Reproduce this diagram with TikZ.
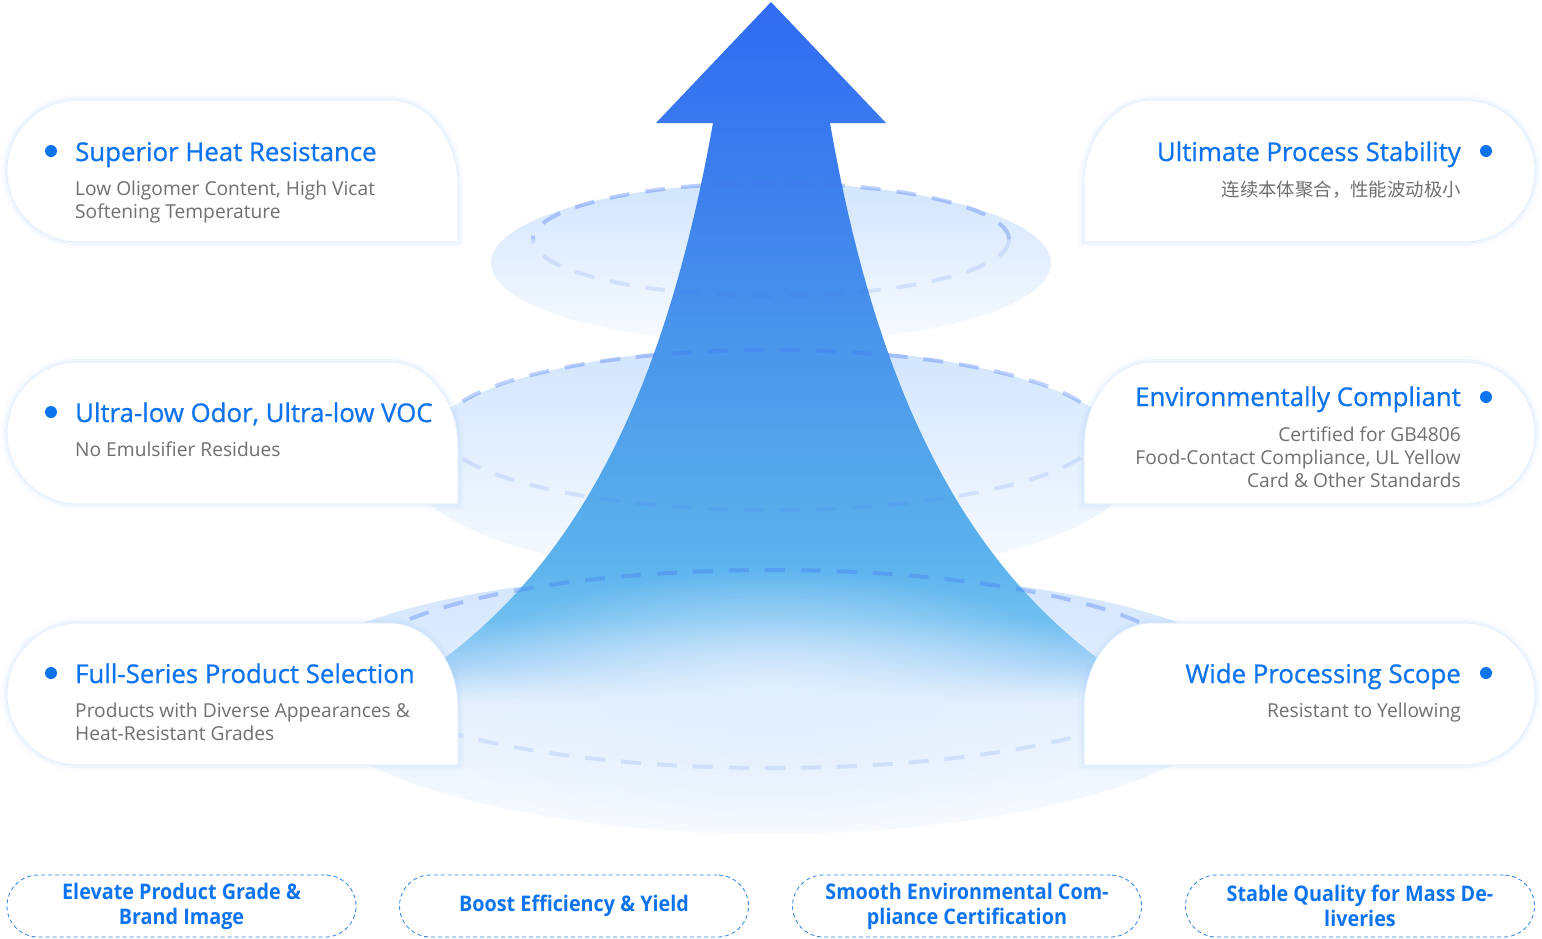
\documentclass[tikz,border=0pt]{standalone}
\usepackage{fontspec}
\setmainfont{Open Sans}
\newfontfamily\cjk{Noto Sans CJK SC}
\newfontfamily\headfont[FakeBold=0.8]{Open Sans}
\newfontfamily\pillfont[FakeStretch=0.92]{Open Sans}
\usetikzlibrary{positioning, calc, fadings}

\definecolor{titleblue}{RGB}{14,116,238}
\definecolor{subgray}{RGB}{112,112,112}
\definecolor{glowblue}{RGB}{150,195,250}
\definecolor{ringblue}{RGB}{70,120,245}
\definecolor{pillblue}{RGB}{45,130,232}
\definecolor{discblue}{RGB}{210,229,253}
\definecolor{discpale}{RGB}{248,251,255}
\definecolor{glowpale}{RGB}{226,239,253}

\pgfdeclareverticalshading{arrowshade}{100bp}{
  rgb(0bp)=(0.89,0.94,0.99);
  rgb(25bp)=(0.89,0.94,0.99);
  rgb(27.5bp)=(0.66,0.83,0.97);
  rgb(30.7bp)=(0.44,0.75,0.94);
  rgb(35bp)=(0.36,0.70,0.93);
  rgb(39.3bp)=(0.34,0.67,0.92);
  rgb(50bp)=(0.29,0.59,0.92);
  rgb(61.9bp)=(0.24,0.50,0.93);
  rgb(75bp)=(0.19,0.42,0.95);
  rgb(100bp)=(0.19,0.42,0.95)}

\tikzfading[name=softglow, inner color=transparent!0, outer color=transparent!100]

\begin{document}
\begin{tikzpicture}[x=1pt, y=-1pt,
    card/.style={fill=white, draw=glowblue!35, line width=.6pt,
      preaction={draw=glowblue, line width=12pt, draw opacity=.05},
      preaction={draw=glowblue, line width=6pt, draw opacity=.10}},
    dot/.style={circle, fill=titleblue, inner sep=0pt, minimum size=12pt},
    head/.style={inner sep=0pt, text=titleblue, font=\headfont\fontsize{25.8}{30}\selectfont},
    note/.style={inner sep=0pt, text=subgray, font=\fontsize{19.2}{23}\selectfont},
    pill/.style={draw=pillblue, line width=.8pt, dash pattern=on 4pt off 3pt,
      rounded corners=31pt, minimum width=349pt, minimum height=62pt,
      align=center, text=titleblue, font=\pillfont\bfseries\fontsize{21.5}{25}\selectfont},
    ringtop/.style={draw=ringblue, draw opacity=.35, line width=4pt, dash pattern=on 20pt off 16pt},
    ringbot/.style={ringtop, draw opacity=.15}]

  \useasboundingbox (0,0) rectangle (1542,938);

  % the three discs
  \shade[top color=discblue, bottom color=discpale] (291,682)
    arc[start angle=180, end angle=360, x radius=480, y radius=112]
    arc[start angle=0, end angle=180, x radius=480, y radius=152] -- cycle;
  \shade[top color=discblue, bottom color=discpale] (771,463) ellipse[x radius=365, y radius=116];
  \shade[top color=discblue, bottom color=discpale] (771,263) ellipse[x radius=280, y radius=80];

  % the arrow
  \shade[shading=arrowshade] (771,2) -- (886,123) -- (830,123)
    .. controls (882,420) and (982,600) .. (1162,700) -- (380,700)
    .. controls (560,600) and (660,420) .. (713,123) -- (656,123) -- cycle;
  \fill[glowpale, path fading=softglow] (771,705) ellipse[x radius=340, y radius=135];

  % dashed rings
  \foreach \cy/\rx/\ry in {239.5/238/56.5, 430/330/80, 669/418/99} {
    \draw[ringtop] (771+\rx,\cy) arc[start angle=0, end angle=-180, x radius=\rx, y radius=\ry];
    \draw[ringbot] (771+\rx,\cy) arc[start angle=0, end angle=180, x radius=\rx, y radius=\ry];
  }

  % cards
  \foreach \t in {100,362,623} {
    \path[card] (458,\t+142) -- (78,\t+142) arc[start angle=90, end angle=270, radius=71]
      -- (390,\t) arc[start angle=-90, end angle=0, x radius=68, y radius=85] -- cycle;
    \path[card] (1084,\t+142) -- (1084,\t+85) arc[start angle=180, end angle=270, x radius=68, y radius=85]
      -- (1464,\t) arc[start angle=-90, end angle=90, radius=71] -- cycle;
  }

  % left texts
  \node[dot] (dotHeat) at (51,151) {};
  \node[head, anchor=base west] (heatTitle) at (75,161) {Superior Heat Resistance};
  \node[note, anchor=north west, align=left] (heatNote) at (75,181) {Low Oligomer Content, High Vicat\\Softening Temperature};

  \node[dot] (dotOdor) at (51,412) {};
  \node[head, anchor=base west] (odorTitle) at (75,422) {Ultra-low Odor, Ultra-low VOC};
  \node[note, anchor=north west, align=left] (odorNote) at (75,442) {No Emulsifier Residues};

  \node[dot] (dotSeries) at (51,673) {};
  \node[head, anchor=base west] (seriesTitle) at (75,683) {Full-Series Product Selection};
  \node[note, anchor=north west, align=left] (seriesNote) at (75,703) {Products with Diverse Appearances \&\\Heat-Resistant Grades};

  % right texts
  \node[dot] (dotStable) at (1486,151) {};
  \node[head, anchor=base east] (stableTitle) at (1461,161) {Ultimate Process Stability};
  \node[note, anchor=north east, font=\cjk\fontsize{18.4}{23}\selectfont] (stableNote) at (1461,181) {连续本体聚合，性能波动极小};

  \node[dot] (dotEnv) at (1486,397) {};
  \node[head, anchor=base east] (envTitle) at (1461,406) {Environmentally Compliant};
  \node[note, anchor=north east, align=right] (envNote) at (1461,427) {Certified for GB4806\\Food-Contact Compliance, UL Yellow\\Card \& Other Standards};

  \node[dot] (dotScope) at (1486,673) {};
  \node[head, anchor=base east] (scopeTitle) at (1461,683) {Wide Processing Scope};
  \node[note, anchor=north east, align=right] (scopeNote) at (1461,703) {Resistant to Yellowing};

  % benefits
  \node[pill] (pillGrade) at (181.5,906) {Elevate Product Grade \&\\Brand Image};
  \node[pill] (pillYield) at (574,906) {Boost Efficiency \& Yield};
  \node[pill] (pillCert) at (967,906) {Smooth Environmental Com-\\pliance Certification};
  \node[pill] (pillDeliver) at (1360,906) {Stable Quality for Mass De-\\liveries};
\end{tikzpicture}
\end{document}
